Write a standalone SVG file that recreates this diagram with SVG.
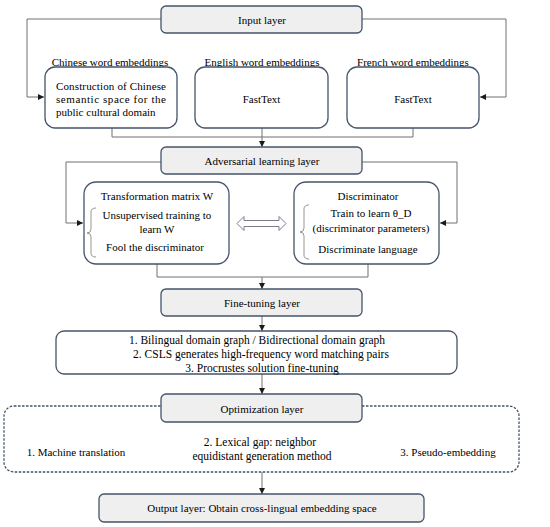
<svg xmlns="http://www.w3.org/2000/svg" width="550" height="527" viewBox="0 0 550 527">
<style>
text{font-size:11px;fill:#000}
.c{text-anchor:middle}
.m{font-size:11.5px}
.layer{fill:#efefef;stroke:#44546a;stroke-width:1.3}
.box{fill:#fff;stroke:#44546a;stroke-width:1.3}
.ln{fill:none;stroke:#707070;stroke-width:1}
.br{fill:none;stroke:#8a8a8a;stroke-width:0.9}
</style>
<defs>
<marker id="ah" viewBox="0 0 10 10" refX="10" refY="5" markerWidth="6" markerHeight="6" orient="auto" markerUnits="userSpaceOnUse">
<path d="M0,0 L10,5 L0,10 z" fill="#1a1a1a"/>
</marker>
</defs>
<rect width="550" height="527" fill="#fff"/>
<g id="connectors">
<path class="ln" d="M161,19 H27 V97 H44" marker-end="url(#ah)"/>
<path class="ln" d="M362,19 H506 V97 H480" marker-end="url(#ah)"/>
<path class="ln" d="M112,128 V137 H413 V128"/>
<path class="ln" d="M262,128 V147" marker-end="url(#ah)"/>
<path class="ln" d="M161,162 H66 V223 H83" marker-end="url(#ah)"/>
<path class="ln" d="M362,162 H457 V223 H440" marker-end="url(#ah)"/>
<path class="ln" d="M157,264 V277 H368 V264"/>
<path class="ln" d="M262,277 V289" marker-end="url(#ah)"/>
<path class="ln" d="M262,316 V331" marker-end="url(#ah)"/>
<path class="ln" d="M262,374 V394" marker-end="url(#ah)"/>
<path class="ln" d="M262,472 V494" marker-end="url(#ah)"/>
<path d="M237,223.5 L244,216.5 V220.5 H279 V216.5 L286,223.5 L279,230.5 V226.5 H244 V230.5 Z" fill="#fff" stroke="#7a7f8a" stroke-width="1"/>
</g>
<g font-family="Liberation Serif, DejaVu Serif, serif">
<g id="input-layer">
<rect class="layer" x="161" y="6" width="201" height="27" rx="5"/>
<text class="c" x="262" y="23.5">Input layer</text>
</g>
<g id="labels">
<text class="c" x="110" y="66">Chinese word embeddings</text>
<text class="c" x="262" y="66">English word embeddings</text>
<text class="c" x="413" y="66">French word embeddings</text>
</g>
<g id="chinese-box">
<rect class="box" x="45" y="67" width="132" height="61" rx="10"/>
<text x="56" y="90" textLength="110" lengthAdjust="spacing">Construction of Chinese</text>
<text x="56" y="103" textLength="110" lengthAdjust="spacing">semantic space for the</text>
<text x="56" y="116">public cultural domain</text>
</g>
<g id="english-box">
<rect class="box" x="195" y="67" width="133" height="61" rx="10"/>
<text class="c" x="261.5" y="103">FastText</text>
</g>
<g id="french-box">
<rect class="box" x="347" y="67" width="132" height="61" rx="10"/>
<text class="c" x="413" y="103">FastText</text>
</g>
<g id="adversarial-layer">
<rect class="layer" x="161" y="147" width="201" height="27" rx="5"/>
<text class="c" x="262" y="164.5">Adversarial learning layer</text>
</g>
<g id="transformation-box">
<rect class="box" x="84" y="182" width="145" height="82" rx="12"/>
<text class="c" x="157" y="200">Transformation matrix W</text>
<path class="br" d="M96,208 Q91,208 91,212 V229 Q91,233 87,233 Q91,233 91,237 V253 Q91,257 96,257"/>
<text class="c" x="157" y="219">Unsupervised training to</text>
<text class="c" x="157" y="233">learn W</text>
<text class="c" x="155" y="251">Fool the discriminator</text>
</g>
<g id="discriminator-box">
<rect class="box" x="294" y="182" width="145" height="82" rx="12"/>
<text class="c" x="368" y="200">Discriminator</text>
<path class="br" d="M309,205 Q304,205 304,209 V228 Q304,232 300,232 Q304,232 304,236 V255 Q304,259 309,259"/>
<text class="c" x="371" y="217">Train to learn θ_D</text>
<text class="c" x="371" y="232">(discriminator parameters)</text>
<text class="c" x="368" y="253">Discriminate language</text>
</g>
<g id="finetuning-layer">
<rect class="layer" x="161" y="289" width="201" height="27" rx="5"/>
<text class="c" x="262" y="306.5">Fine-tuning layer</text>
</g>
<g id="finetuning-box">
<rect class="box" x="56" y="331" width="401" height="43" rx="8"/>
<text class="c m" x="257" y="344">1. Bilingual  domain graph / Bidirectional domain graph</text>
<text class="c m" x="261" y="358">2. CSLS  generates high-frequency word matching pairs</text>
<text class="c m" x="262" y="372">3. Procrustes solution fine-tuning</text>
</g>
<g id="optimization-group">
<rect x="4" y="406" width="515" height="66" rx="10" fill="none" stroke="#44546a" stroke-width="1.3" stroke-dasharray="2.5,1.5"/>
<text class="c" x="76" y="456">1. Machine translation</text>
<text class="c m" x="260" y="446">2. Lexical gap: neighbor</text>
<text class="c m" x="262" y="460">equidistant generation method</text>
<text class="c" x="448" y="456">3. Pseudo-embedding</text>
</g>
<g id="optimization-layer">
<rect class="layer" x="161" y="394" width="201" height="28" rx="5"/>
<text class="c" x="262" y="412.5">Optimization layer</text>
</g>
<g id="output-layer">
<rect class="layer" x="99" y="494" width="325" height="28" rx="5"/>
<text class="c" x="262" y="512">Output layer: Obtain cross-lingual embedding space</text>
</g>
</g>
</svg>
